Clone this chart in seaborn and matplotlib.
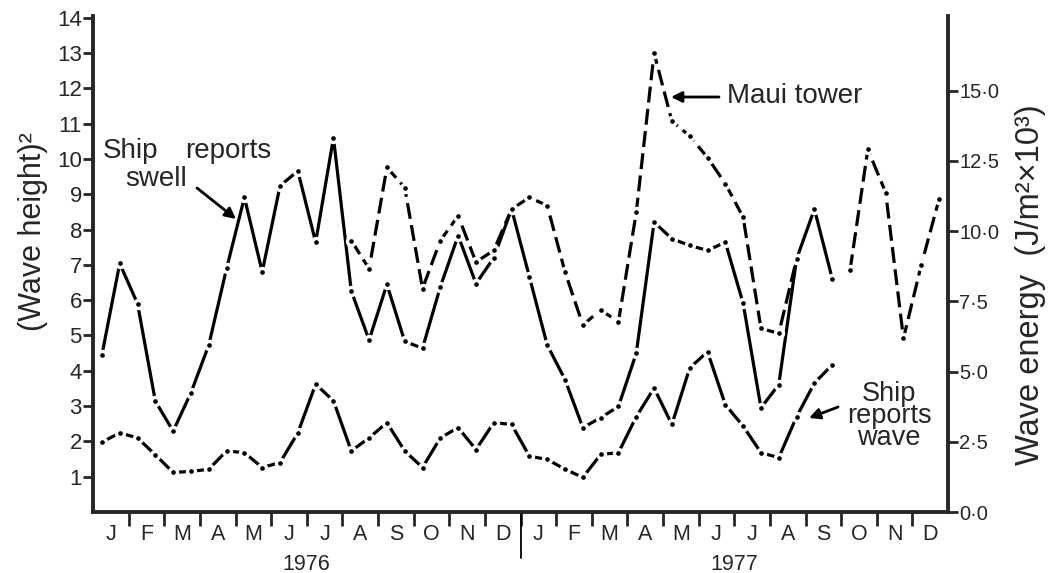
import numpy as np
import pandas as pd
import matplotlib
matplotlib.use("Agg")
import matplotlib.pyplot as plt
import matplotlib.transforms as mtransforms
from matplotlib.patches import FancyArrowPatch
from matplotlib.ticker import FuncFormatter
import seaborn as sns

nan = np.nan

# Half-monthly samples, January 1976 to December 1977 (48 slots)
n_slots = 48
month_pos = np.arange(n_slots) / 2 + 0.25

# (Wave height)^2 from ship reports of swell
swell = [4.45, 7.04, 5.9, 3.14, 2.29, 3.38, 4.73, 6.9, 8.91, 6.80, 9.24, 9.66,
         7.64, 10.6, 6.26, 4.87, 6.45, 4.83, 4.64, 6.38, 7.83, 6.47, 7.2, 8.58,
         6.66, 4.73, 3.75, 2.39, 2.67, 2.99, 4.5, 8.21, 7.74, 7.55, 7.41, 7.64,
         5.91, 2.95, 3.61, 7.17, 8.58, 6.61, nan, nan, nan, nan, nan, nan]

# (Wave height)^2 from ship reports of wind waves
wave = [1.98, 2.24, 2.10, 1.62, 1.12, 1.15, 1.21, 1.73, 1.68, 1.26, 1.40, 2.24,
        3.62, 3.15, 1.73, 2.10, 2.53, 1.73, 1.26, 2.10, 2.39, 1.77, 2.53, 2.48,
        1.58, 1.49, 1.21, 0.98, 1.63, 1.68, 2.7, 3.51, 2.48, 4.08, 4.54, 3.04,
        2.43, 1.68, 1.54, 2.7, 3.65, 4.17, nan, nan, nan, nan, nan, nan]

# (Wave height)^2 measured at the Maui tower
maui = [nan] * 14 + [7.69, 6.89, 9.76, 9.19, 6.33, 7.69, 8.39, 7.08, 7.41, 8.58,
                     8.91, 8.68, 6.80, 5.30, 5.72, 5.39, 8.49, 13.0, 11.07, 10.65,
                     10.04, 9.3, 8.35, 5.20, 5.06, 7.17, nan, nan, 6.85, 10.27,
                     9.05, 4.92, 7.0, 8.86]

month_letters = list("JFMAMJJASOND") * 2
years = ["1976", "1977"]

# energy (10^3 J/m^2) per unit (wave height)^2
ENERGY_FACTOR = 1.257


def long_frame(name, values):
    s = pd.Series(values, dtype=float)
    seg = s.isna().cumsum()
    d = pd.DataFrame({"month": month_pos, "value": s, "segment": seg, "series": name})
    return d.dropna(subset=["value"])


df = pd.concat([long_frame("swell", swell),
                long_frame("wave", wave),
                long_frame("maui", maui)], ignore_index=True)

sns.set_theme(style="ticks")
plt.rcParams["font.family"] = ["Liberation Sans", "DejaVu Sans"]

W, H = 1052, 573
fig = plt.figure(figsize=(W / 100, H / 100), dpi=100)
ax = fig.add_axes([93 / W, 1 - 512 / H, 855 / W, 496 / H])


def fp(x, y):
    """pixel position (from top-left) to figure fraction"""
    return (x / W, 1 - y / H)


line_kw = dict(color="black", lw=2.3, marker="o", ms=5.8, mfc="black",
               mec="white", mew=2.4)
styles = {"swell": "-", "wave": "-", "maui": (0, (5, 2))}
for name, ls in styles.items():
    sub = df[df["series"] == name]
    sns.lineplot(data=sub, x="month", y="value", units="segment", estimator=None,
                 sort=False, ax=ax, linestyle=ls, legend=False, **line_kw)

ax.set_xlim(0, 24)
ax.set_ylim(0, 14.05)
ax.set_xlabel("")
ax.set_ylabel("")

# month boundaries carry the tick marks, month centres carry the letters
ax.set_xticks(np.arange(1, 24))
ax.set_xticklabels([])
ax.set_xticks(np.arange(24) + 0.5, minor=True)
ax.set_xticklabels(month_letters, minor=True)
ax.tick_params(axis="x", which="major", length=10, width=2.0, direction="out")
ax.tick_params(axis="x", which="minor", length=0, pad=9, labelsize=15.5)

ax.set_yticks(np.arange(1, 15))
ax.tick_params(axis="y", length=7, width=2.0, labelsize=16, pad=1)

for side in ("top", "right"):
    ax.spines[side].set_visible(False)
for side in ("left", "bottom"):
    ax.spines[side].set_linewidth(2.8)

sec = ax.secondary_yaxis("right", functions=(lambda v: v * ENERGY_FACTOR,
                                             lambda v: v / ENERGY_FACTOR))
sec.set_yticks(np.arange(0, 15.01, 2.5))
sec.yaxis.set_major_formatter(FuncFormatter(lambda v, p: f"{v:.1f}".replace(".", "·")))
sec.tick_params(axis="y", length=7, width=2.0, labelsize=14.5, pad=1)
sec.spines["right"].set_linewidth(2.8)

# divider between the two years and year captions
blend = mtransforms.blended_transform_factory(ax.transData, fig.transFigure)
ax.plot([12, 12], [1 - 512 / H, 1 - 558 / H], color="black", lw=1.3,
        transform=blend, clip_on=False)
for i, yr in enumerate(years):
    ax.text(6 + 12 * i, 1 - 564 / H, yr, transform=blend, ha="center",
            va="center", fontsize=15.5)

# axis titles
fig.text(*fp(33, 232), "(Wave height)²", rotation=90, ha="center", va="center",
         fontsize=22)
fig.text(*fp(1031, 285), "Wave energy  (J/m²×10³)", rotation=90, ha="center",
         va="center", fontsize=23.5)

# series annotations
ann = dict(fontsize=20, ha="left", va="baseline")
fig.text(*fp(103, 158), "Ship", **ann)
fig.text(*fp(185, 158), "reports", **ann)
fig.text(*fp(125, 186), "swell", **ann)
fig.text(*fp(727, 103), "Maui tower", **ann)
fig.text(*fp(889, 381), "Ship\nreports\nwave", fontsize=19.5, ha="center",
         va="top", multialignment="center", linespacing=0.8)

arrow = dict(arrowstyle="-|>", color="black", lw=2, mutation_scale=16,
             shrinkA=0, shrinkB=0)
for start, end in (((197, 188), (236, 219)),
                   ((719, 97), (671, 97)),
                   ((838, 407), (809, 418))):
    fig.add_artist(FancyArrowPatch(fp(*start), fp(*end),
                                   transform=fig.transFigure, **arrow))

fig.savefig("out.png", dpi=100)
